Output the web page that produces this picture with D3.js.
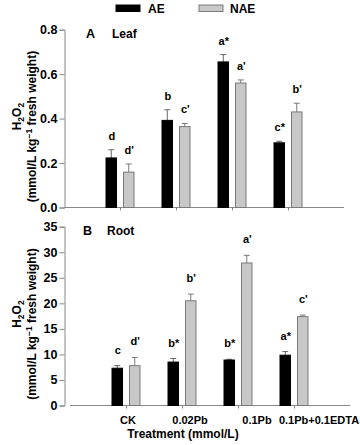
<!DOCTYPE html>
<html><head><meta charset="utf-8">
<script src="https://cdn.jsdelivr.net/npm/d3@7"></script>
<style>
html,body{margin:0;padding:0;background:#fff;}
svg text{font-family:"Liberation Sans",Arial,sans-serif;font-weight:bold;fill:#000;}
</style></head>
<body>
<svg id="c" width="360" height="445"></svg>
<script>
// ---- data ----
const categories = ["CK", "0.02Pb", "0.1Pb", "0.1Pb+0.1EDTA"];
const seriesNames = ["AE", "NAE"];
const leafAE = [0.223, 0.392, 0.655, 0.291];
const leafAEErr = [0.037, 0.048, 0.033, 0.007];
const leafNAE = [0.159, 0.364, 0.560, 0.430];
const leafNAEErr = [0.037, 0.014, 0.014, 0.039];
const leafAELetters = ["d", "b", "a*", "c*"];
const leafNAELetters = ["d'", "c'", "a'", "b'"];
const rootAE = [7.3, 8.5, 8.9, 9.85];
const rootAEErr = [0.5, 0.7, 0.15, 0.7];
const rootNAE = [7.8, 20.5, 27.9, 17.4];
const rootNAEErr = [1.6, 1.3, 1.5, 0.3];
const rootAELetters = ["c", "b*", "b*", "a*"];
const rootNAELetters = ["d'", "b'", "a'", "c'"];
const leafTicks = [0, 0.2, 0.4, 0.6, 0.8];
const rootTicks = [0, 5, 10, 15, 20, 25, 30, 35];

// ---- layout / style ----
const svg = d3.select("#c");
const colors = {AE: "#000", NAE: "#c8c8c8"};
const strokes = {AE: "#000", NAE: "#7a7a7a"};
const errColors = {AE: "#666", NAE: "#7a7a7a"};
const axisColor = "#888";
const labelShift = [2, 8, 19, 25];

function panel(opt) {
  const g = svg.append("g");
  const x = d3.scalePoint().domain(categories).range([opt.x0, opt.x1]).padding(1);
  const xs = d3.scaleBand().domain(seriesNames).range([-14, 14]).paddingInner(0.4);
  const y = d3.scaleLinear().domain([0, opt.max]).range([opt.yb, opt.yt]);

  // y axis
  const ya = g.append("g").attr("transform", `translate(${opt.yAxisX},0)`)
    .call(d3.axisLeft(y).tickValues(opt.ticks).tickFormat(opt.fmt).tickSize(5).tickPadding(2));
  ya.select(".domain").attr("stroke", axisColor);
  ya.selectAll(".tick line").attr("stroke", axisColor);
  ya.selectAll(".tick text").style("font-size", "12.5px").style("font-family", '"Liberation Sans",Arial,sans-serif').style("font-weight", "bold").attr("fill", "#000");

  // x axis
  const xa = g.append("g").attr("transform", `translate(0,${opt.yb})`)
    .call(d3.axisBottom(x).tickSize(3).tickFormat(""));
  xa.select(".domain").attr("stroke", axisColor).attr("d", `M${opt.x0},0H${opt.x1}`);
  xa.selectAll(".tick line").attr("stroke", axisColor);

  if (opt.showLabels) {
    g.selectAll(".xl").data(categories).join("text")
      .attr("x", (d, i) => x(d) + labelShift[i]).attr("y", opt.yb + 18.5)
      .attr("text-anchor", "middle").style("font-size", "11px").text(d => d);
  }

  const series = [
    {name: "AE", vals: opt.ae, errs: opt.aeErr, letters: opt.aeL},
    {name: "NAE", vals: opt.nae, errs: opt.naeErr, letters: opt.naeL}
  ];
  series.forEach(s => {
    const data = categories.map((c, i) => ({c, v: s.vals[i], e: s.errs[i], l: s.letters[i]}));
    const bx = d => x(d.c) + xs(s.name);
    const bw = xs.bandwidth();
    // error bars
    g.selectAll(null).data(data).join("path")
      .attr("d", d => `M${bx(d) + bw / 2},${y(d.v)}V${y(d.v + d.e)}M${bx(d) + bw / 2 - 3},${y(d.v + d.e)}H${bx(d) + bw / 2 + 3}`)
      .attr("stroke", errColors[s.name]).attr("stroke-width", 1).attr("fill", "none");
    // bars
    g.selectAll(null).data(data).join("rect")
      .attr("x", d => bx(d)).attr("width", bw)
      .attr("y", d => y(d.v)).attr("height", d => opt.yb - y(d.v))
      .attr("fill", colors[s.name]).attr("stroke", strokes[s.name]).attr("stroke-width", 1);
    // letters
    g.selectAll(null).data(data).join("text")
      .attr("x", d => bx(d) + bw / 2 + 0.5).attr("y", d => y(d.v + d.e) - opt.gap)
      .attr("text-anchor", "middle").style("font-size", "11px").text(d => d.l);
  });

  // panel label
  g.append("text").attr("x", opt.lx).attr("y", opt.ly).style("font-size", "12.5px").text(opt.letter);
  g.append("text").attr("x", opt.lx2).attr("y", opt.ly).style("font-size", "12px").text(opt.name);

  // y title
  const cy = (opt.yt + opt.yb) / 2;
  const t1 = g.append("text").attr("transform", `translate(21,${cy - 2}) rotate(-90)`)
    .attr("text-anchor", "middle").style("font-size", "12px");
  t1.append("tspan").text("H");
  t1.append("tspan").attr("dy", 3).style("font-size", "8.5px").text("2");
  t1.append("tspan").attr("dy", -3).text("O");
  t1.append("tspan").attr("dy", 3).style("font-size", "8.5px").text("2");
  const t2 = g.append("text").attr("transform", `translate(36,${cy + 8}) rotate(-90)`)
    .attr("text-anchor", "middle").style("font-size", "12px");
  t2.append("tspan").text("(mmol/L kg");
  t2.append("tspan").attr("dy", -4).style("font-size", "8.5px").text("\u22121");
  t2.append("tspan").attr("dy", 4).text(" fresh weight)");
}

panel({x0: 64, x1: 344, yAxisX: 64.5, yt: 29.7, yb: 207.5, max: 0.8, ticks: leafTicks,
  fmt: d3.format(".1f"), ae: leafAE, aeErr: leafAEErr, nae: leafNAE, naeErr: leafNAEErr,
  aeL: leafAELetters, naeL: leafNAELetters, gap: 10, letter: "A", name: "Leaf",
  lx: 86, lx2: 112, ly: 37.5, showLabels: false});

panel({x0: 70, x1: 350, yAxisX: 64.5, yt: 226.7, yb: 405.5, max: 35, ticks: rootTicks,
  fmt: d3.format("d"), ae: rootAE, aeErr: rootAEErr, nae: rootNAE, naeErr: rootNAEErr,
  aeL: rootAELetters, naeL: rootNAELetters, gap: 12, letter: "B", name: "Root",
  lx: 83, lx2: 107, ly: 235, showLabels: true});

// x title
svg.append("text").attr("x", 183).attr("y", 438).attr("text-anchor", "middle")
  .style("font-size", "12px").text("Treatment (mmol/L)");

// legend
const leg = [{n: "AE", rx: 116, tx: 148}, {n: "NAE", rx: 199, tx: 230}];
leg.forEach(l => {
  svg.append("rect").attr("x", l.rx).attr("y", 5).attr("width", 24).attr("height", 6.5)
    .attr("fill", colors[l.n]).attr("stroke", strokes[l.n]).attr("stroke-width", 1);
  svg.append("text").attr("x", l.tx).attr("y", 12.5).style("font-size", "12px").text(l.n);
});
</script>
</body></html>
